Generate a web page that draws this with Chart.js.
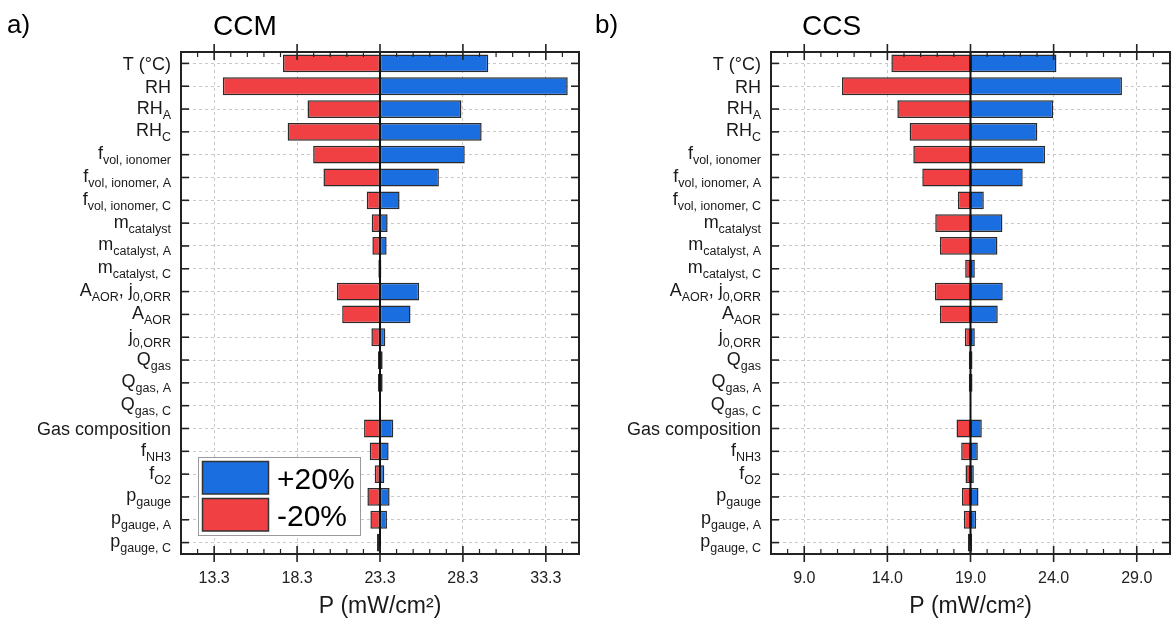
<!DOCTYPE html>
<html>
<head>
<meta charset="utf-8">
<script src="https://cdn.jsdelivr.net/npm/chart.js@4.4.1/dist/chart.umd.min.js"></script>
<style>
  body { margin: 0; background: #fff; }
  .panel { position: absolute; top: 0; }
</style>
</head>
<body>
<div class="panel" style="left:0"><canvas id="ccmChart" width="585" height="618"></canvas></div>
<div class="panel" style="left:585px"><canvas id="ccsChart" width="586" height="618"></canvas></div>
<script>
// row labels, _{...} marks a subscript
const rowLabels = [
  'T (°C)', 'RH', 'RH_{A}', 'RH_{C}',
  'f_{vol, ionomer}', 'f_{vol, ionomer, A}', 'f_{vol, ionomer, C}',
  'm_{catalyst}', 'm_{catalyst, A}', 'm_{catalyst, C}',
  'A_{AOR}, j_{0,ORR}', 'A_{AOR}', 'j_{0,ORR}',
  'Q_{gas}', 'Q_{gas, A}', 'Q_{gas, C}',
  'Gas composition', 'f_{NH3}', 'f_{O2}',
  'p_{gauge}', 'p_{gauge, A}', 'p_{gauge, C}'
];

const seriesNames = ['+20%', '-20%'];

// CCM, power density for +20% / -20% of each parameter
const ccmBase = 23.3;
const ccmPlus = [29.83, 34.62, 28.21, 29.43, 28.41, 26.85, 24.48, 23.76, 23.70, 23.38, 25.66, 25.14, 23.62, 23.18, 23.18, 23.30, 24.10, 23.82, 23.56, 23.88, 23.72, 23.32];
const ccmMinus = [17.45, 13.82, 18.93, 17.73, 19.27, 19.89, 22.50, 22.80, 22.84, 23.20, 20.70, 21.02, 22.78, 23.46, 23.46, 23.30, 22.34, 22.68, 22.98, 22.54, 22.72, 23.12];
const ccmTicks = [13.3, 18.3, 23.3, 28.3, 33.3];

// CCS
const ccsBase = 19.0;
const ccsPlus = [24.17, 28.11, 23.97, 23.02, 23.48, 22.14, 19.80, 20.92, 20.62, 19.26, 20.94, 20.64, 19.26, 18.90, 18.90, 19.00, 19.68, 19.44, 19.20, 19.48, 19.34, 19.10];
const ccsMinus = [14.24, 11.27, 14.60, 15.34, 15.56, 16.10, 18.24, 16.88, 17.16, 18.68, 16.86, 17.16, 18.66, 19.12, 19.12, 19.00, 18.16, 18.44, 18.70, 18.48, 18.60, 18.84];
const ccsTicks = [9.0, 14.0, 19.0, 24.0, 29.0];

const BLUE = '#1b6ee0';
const RED = '#f04044';
const FONT = "'Liberation Sans', Arial, sans-serif";

// split 'RH_{A}' into [['RH', false], ['A', true]]
function parseLabel(s) {
  const parts = [];
  const re = /_\{([^}]*)\}/g;
  let last = 0, m;
  while ((m = re.exec(s)) !== null) {
    if (m.index > last) parts.push([s.slice(last, m.index), false]);
    parts.push([m[1], true]);
    last = re.lastIndex;
  }
  if (last < s.length) parts.push([s.slice(last), false]);
  return parts;
}

function line(ctx, x1, y1, x2, y2) {
  ctx.beginPath();
  ctx.moveTo(x1, y1);
  ctx.lineTo(x2, y2);
  ctx.stroke();
}

const decorPlugin = {
  id: 'decor',
  afterDatasetsDraw(chart, args, opts) {
    const { ctx, chartArea: a, scales: { x } } = chart;
    const px = x.getPixelForValue(opts.base);
    ctx.save();
    ctx.strokeStyle = '#111';
    ctx.lineWidth = 2;
    line(ctx, px, a.top, px, a.bottom);
    ctx.restore();
  },
  afterDraw(chart, args, opts) {
    const { ctx, chartArea: a, scales: { x, y } } = chart;
    ctx.save();

    // frame
    ctx.strokeStyle = '#222';
    ctx.lineWidth = 2;
    ctx.strokeRect(a.left, a.top, a.right - a.left, a.bottom - a.top);

    // x ticks, major cross the frame, minor every 1 unit inside
    ctx.lineWidth = 1.6;
    const majors = x.ticks.map(t => t.value);
    majors.forEach(v => {
      const p = x.getPixelForValue(v);
      line(ctx, p, a.top - 8, p, a.top + 8);
      line(ctx, p, a.bottom - 8, p, a.bottom + 8);
    });
    ctx.lineWidth = 1.2;
    for (let k = -30; k <= 30; k++) {
      const v = majors[0] + k;
      if (v <= x.min || v >= x.max || k % 5 === 0) continue;
      const p = x.getPixelForValue(v);
      line(ctx, p, a.top, p, a.top + 5);
      line(ctx, p, a.bottom - 5, p, a.bottom);
    }

    // y ticks on both sides
    ctx.lineWidth = 1.6;
    chart.data.labels.forEach((lab, i) => {
      const p = y.getPixelForValue(i);
      line(ctx, a.left, p, a.left + 8, p);
      line(ctx, a.right - 8, p, a.right, p);
    });

    // y labels with subscripts
    ctx.fillStyle = '#1a1a1a';
    ctx.textBaseline = 'alphabetic';
    ctx.textAlign = 'left';
    const mainFont = '18px ' + FONT;
    const subFont = '12.5px ' + FONT;
    chart.data.labels.forEach((lab, i) => {
      const parts = parseLabel(lab);
      const hasSub = parts.some(p => p[1]);
      const base = y.getPixelForValue(i) + (hasSub ? 4.5 : 6.5);
      let w = 0;
      parts.forEach(p => { ctx.font = p[1] ? subFont : mainFont; w += ctx.measureText(p[0]).width; });
      let cx = a.left - 10 - w;
      parts.forEach(p => {
        ctx.font = p[1] ? subFont : mainFont;
        ctx.fillText(p[0], cx, p[1] ? base + 5 : base);
        cx += ctx.measureText(p[0]).width;
      });
    });

    // panel letter and title
    ctx.fillStyle = '#000';
    ctx.font = '26px ' + FONT;
    ctx.fillText(opts.letter, opts.letterX, 33);
    ctx.font = '28px ' + FONT;
    ctx.fillText(opts.title, opts.titleX, 35);

    // legend inside the plot
    if (opts.legend) {
      const lx = a.left + 17, ly = a.bottom - 97;
      ctx.fillStyle = '#fff';
      ctx.fillRect(lx, ly, 162, 78);
      ctx.strokeStyle = '#9a9a9a';
      ctx.lineWidth = 1;
      ctx.strokeRect(lx + 0.5, ly + 0.5, 162, 78);
      chart.data.datasets.forEach((ds, i) => {
        const sy = ly + 4.5 + i * 37;
        ctx.fillStyle = ds.backgroundColor;
        ctx.fillRect(lx + 4.5, sy, 66, 32.5);
        ctx.strokeStyle = '#333';
        ctx.lineWidth = 1.5;
        ctx.strokeRect(lx + 4.5, sy, 66, 32.5);
        ctx.fillStyle = '#000';
        ctx.font = '30px ' + FONT;
        ctx.fillText(ds.label, lx + 79, sy + 27.5);
      });
    }
    ctx.restore();
  }
};

function makeChart(id, base, plus, minus, ticks, min, max, decor) {
  const common = {
    borderColor: '#2b2b2b',
    borderWidth: 1.5,
    borderSkipped: false,
    grouped: false,
    barPercentage: 0.78,
    categoryPercentage: 1
  };
  return new Chart(document.getElementById(id), {
    type: 'bar',
    data: {
      labels: rowLabels,
      datasets: [
        Object.assign({ label: seriesNames[0], data: plus.map(v => [base, v]), backgroundColor: BLUE }, common),
        Object.assign({ label: seriesNames[1], data: minus.map(v => [base, v]), backgroundColor: RED }, common)
      ]
    },
    options: {
      indexAxis: 'y',
      responsive: false,
      animation: false,
      layout: { padding: { top: 52, right: decor.padRight, left: 0, bottom: 0 } },
      plugins: {
        legend: { display: false },
        tooltip: { enabled: false },
        decor: decor
      },
      scales: {
        x: {
          type: 'linear',
          min: min,
          max: max,
          afterBuildTicks: s => { s.ticks = ticks.map(v => ({ value: v })); },
          afterFit: s => { s.height = 64; },
          ticks: {
            callback: v => Number(v).toFixed(1),
            font: { size: 16, family: FONT },
            color: '#222',
            padding: 15,
            autoSkip: false,
            maxRotation: 0
          },
          grid: { color: '#c8c8c8', lineWidth: 1, drawTicks: false },
          border: { display: false, dash: [3, 3] },
          title: {
            display: true,
            text: 'P (mW/cm²)',
            font: { size: 23, family: FONT, lineHeight: 1 },
            color: '#1a1a1a',
            padding: { top: 0, bottom: 0 }
          }
        },
        y: {
          type: 'category',
          afterFit: s => { s.width = decor.left; },
          ticks: { display: false },
          grid: { color: '#c8c8c8', lineWidth: 1, drawTicks: false, offset: false },
          border: { display: false, dash: [3, 3] }
        }
      }
    },
    plugins: [decorPlugin]
  });
}

makeChart('ccmChart', ccmBase, ccmPlus, ccmMinus, ccmTicks, ccmBase - 12, ccmBase + 12,
  { base: ccmBase, letter: 'a)', letterX: 7, title: 'CCM', titleX: 213, legend: true, left: 181, padRight: 6 });
makeChart('ccsChart', ccsBase, ccsPlus, ccsMinus, ccsTicks, ccsBase - 12, ccsBase + 12,
  { base: ccsBase, letter: 'b)', letterX: 10, title: 'CCS', titleX: 217, legend: false, left: 186, padRight: 1 });
</script>
</body>
</html>
